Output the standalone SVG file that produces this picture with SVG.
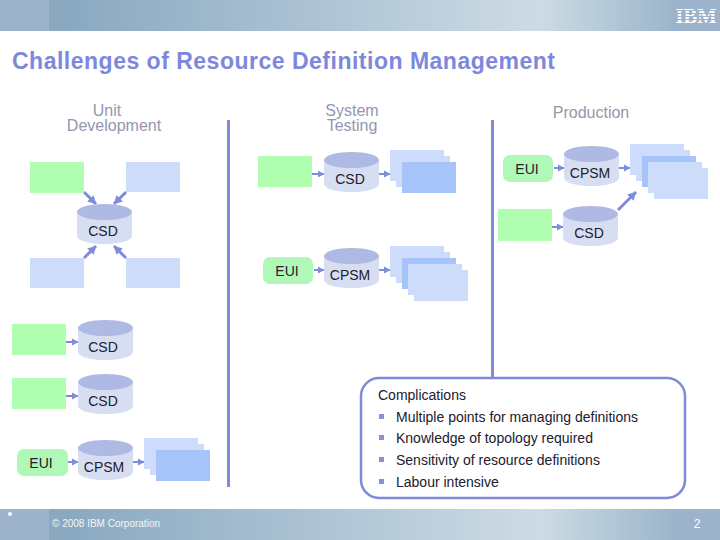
<svg xmlns="http://www.w3.org/2000/svg" width="720" height="540" viewBox="0 0 720 540">
<style>
text{font-family:"Liberation Sans",Arial,sans-serif}
.head{font-size:16px;fill:#9297ad;text-anchor:middle}
.lab{font-size:14px;fill:#20202e;text-anchor:middle}
.body{font-size:14px;fill:#20202e}
.g{fill:#b0ffb0}
.b{fill:#ccdcfa}
.d{fill:#a6c3fa}
.eui{fill:#b0f8b8}
.cb{fill:#d8def2}
.ct{fill:#aeb9e4}
.c line{stroke:#7f8bdc;stroke-width:2;marker-end:url(#a)}
.c line.w{stroke-width:3;marker-end:url(#w)}
.div{fill:#7f8bd8}
.sq{fill:#8592d8}
</style>
<defs>
<linearGradient id="band" x1="0" x2="1" y1="0" y2="0">
<stop offset="0" stop-color="#8aa9c1"/><stop offset=".1" stop-color="#8aa9c1"/><stop offset=".75" stop-color="#cddbe5"/><stop offset="1" stop-color="#8aa9c1"/>
</linearGradient>
<marker id="a" markerUnits="userSpaceOnUse" markerWidth="8" markerHeight="8" refX="6" refY="4" orient="auto"><path d="M0 .5L6.500 4L0 7.500z" fill="#7f8bdc"/></marker>
<marker id="w" markerUnits="userSpaceOnUse" markerWidth="10" markerHeight="10" refX="8" refY="5" orient="auto"><path d="M0 .5L8.500 5L0 9.500z" fill="#7f8bdc"/></marker>
<g id="cyl"><path class="cb" d="M0 8V32A27.500 8 0 0 0 55 32V8z"/><ellipse class="ct" cx="27.500" cy="8" rx="27.500" ry="8"/></g>
</defs>
<rect width="720" height="540" fill="#fff"/>
<g id="header">
<rect width="720" height="31" fill="url(#band)"/>
<rect width="49" height="31" fill="#9cb3cb"/>
<rect x="671" width="49" height="31" fill="#9cb3cb"/>
<text x="696" y="23" style="font-family:'Liberation Serif',serif;font-weight:bold;font-size:21px" fill="#fff" text-anchor="middle" textLength="41" lengthAdjust="spacingAndGlyphs">IBM</text>
<path d="M674 10.500h46M674 13.500h46M674 16.500h46M674 19.500h46" stroke="#9cb3cb" stroke-width="1"/>
</g>
<text id="title" x="12" y="69" font-size="23" font-weight="bold" fill="#7c88dc" textLength="543">Challenges of Resource Definition Management</text>
<text class="head"><tspan x="107" y="116">Unit</tspan><tspan x="114" y="131">Development</tspan></text>
<text class="head"><tspan x="352" y="116">System</tspan><tspan x="352" y="131">Testing</tspan></text>
<text class="head" x="591" y="118">Production</text>
<rect class="div" x="227" y="120" width="3" height="367"/>
<rect class="div" x="491" y="120" width="3" height="258"/>

<g id="connectors" class="c">
<line class="w" x1="84" y1="192" x2="96" y2="204"/>
<line class="w" x1="126" y1="192" x2="114" y2="204"/>
<line class="w" x1="84" y1="258" x2="96" y2="246"/>
<line class="w" x1="126" y1="258" x2="114" y2="246"/>
<line x1="312" y1="174" x2="324" y2="174"/>
<line x1="378" y1="174" x2="390" y2="174"/>
<line x1="314" y1="270" x2="324" y2="270"/>
<line x1="378" y1="270" x2="390" y2="270"/>
<line x1="554" y1="168" x2="564" y2="168"/>
<line x1="618" y1="168" x2="630" y2="168"/>
<line x1="552" y1="227" x2="563" y2="227"/>
<line class="w" x1="618" y1="210" x2="636" y2="192"/>
<line x1="66" y1="342" x2="78" y2="342"/>
<line x1="66" y1="396" x2="78" y2="396"/>
<line x1="68" y1="462" x2="78" y2="462"/>
<line x1="132" y1="462" x2="144" y2="462"/>
</g>

<g id="unit">
<rect class="g" x="30" y="162" width="54" height="31"/>
<rect class="b" x="126" y="162" width="54" height="30"/>
<rect class="b" x="30" y="258" width="54" height="30"/>
<rect class="b" x="126" y="258" width="54" height="30"/>
<g id="csd1"><use href="#cyl" x="77" y="204"/><text class="lab" x="103" y="236">CSD</text></g>
</g>

<g id="system">
<rect class="g" x="258" y="156" width="54" height="31"/>
<g id="csd2"><use href="#cyl" x="324" y="152"/><text class="lab" x="350" y="184">CSD</text></g>
<g id="stack1">
<rect class="b" x="390" y="150" width="54" height="31"/>
<rect class="b" x="396" y="156" width="54" height="31"/>
<rect class="d" x="402" y="162" width="54" height="31"/>
</g>
<g id="eui1"><rect class="eui" x="263" y="257" width="50" height="27" rx="7"/><text class="lab" x="287" y="276">EUI</text></g>
<g id="cpsm1"><use href="#cyl" x="324" y="248"/><text class="lab" x="350" y="280">CPSM</text></g>
<g id="stack2">
<rect class="b" x="390" y="246" width="54" height="31"/>
<rect class="b" x="396" y="252" width="54" height="31"/>
<rect class="d" x="402" y="258" width="54" height="31"/>
<rect class="b" x="408" y="264" width="54" height="31"/>
<rect class="b" x="414" y="270" width="54" height="31"/>
</g>
</g>

<g id="production">
<g id="eui2"><rect class="eui" x="503" y="155" width="50" height="27" rx="7"/><text class="lab" x="527" y="174">EUI</text></g>
<g id="cpsm2"><use href="#cyl" x="564" y="146"/><text class="lab" x="590" y="178">CPSM</text></g>
<g id="stack3">
<rect class="b" x="630" y="144" width="54" height="31"/>
<rect class="b" x="636" y="150" width="54" height="31"/>
<rect class="d" x="642" y="156" width="54" height="31"/>
<rect class="b" x="648" y="162" width="54" height="31"/>
<rect class="b" x="654" y="168" width="54" height="31"/>
</g>
<rect class="g" x="498" y="209" width="54" height="32"/>
<g id="csd3"><use href="#cyl" x="563" y="206"/><text class="lab" x="589" y="238">CSD</text></g>
</g>

<g id="lower">
<rect class="g" x="12" y="324" width="54" height="31"/>
<g id="csd4"><use href="#cyl" x="78" y="320"/><text class="lab" x="103" y="352">CSD</text></g>
<rect class="g" x="12" y="378" width="54" height="31"/>
<g id="csd5"><use href="#cyl" x="78" y="374"/><text class="lab" x="103" y="406">CSD</text></g>
<g id="eui3"><rect class="eui" x="17" y="449" width="51" height="27" rx="7"/><text class="lab" x="41" y="468">EUI</text></g>
<g id="cpsm3"><use href="#cyl" x="78" y="440"/><text class="lab" x="104" y="472">CPSM</text></g>
<g id="stack4">
<rect class="b" x="144" y="438" width="54" height="31"/>
<rect class="b" x="150" y="444" width="54" height="31"/>
<rect class="d" x="156" y="450" width="54" height="31"/>
</g>
</g>

<g id="complications">
<rect x="361" y="378" width="324" height="120" rx="18" fill="#fff" stroke="#7f8bd8" stroke-width="2.500"/>
<text class="body" x="378" y="400">Complications</text>
<rect class="sq" x="379" y="414" width="5" height="5"/>
<rect class="sq" x="379" y="435" width="5" height="5"/>
<rect class="sq" x="379" y="457" width="5" height="5"/>
<rect class="sq" x="379" y="479" width="5" height="5"/>
<text class="body" x="396" y="422">Multiple points for managing definitions</text>
<text class="body" x="396" y="443">Knowledge of topology required</text>
<text class="body" x="396" y="465">Sensitivity of resource definitions</text>
<text class="body" x="396" y="487">Labour intensive</text>
</g>

<g id="footer">
<rect y="509" width="720" height="31" fill="url(#band)"/>
<rect y="509" width="49" height="31" fill="#9cb3cb"/>
<rect x="671" y="509" width="49" height="31" fill="#9cb3cb"/>
<circle cx="10" cy="514" r="2" fill="#fff"/>
<text x="52" y="527" font-size="10" fill="#f4f6f8" textLength="108">© 2008 IBM Corporation</text>
<text x="697" y="528" font-size="12" fill="#fff" text-anchor="middle">2</text>
</g>
</svg>
